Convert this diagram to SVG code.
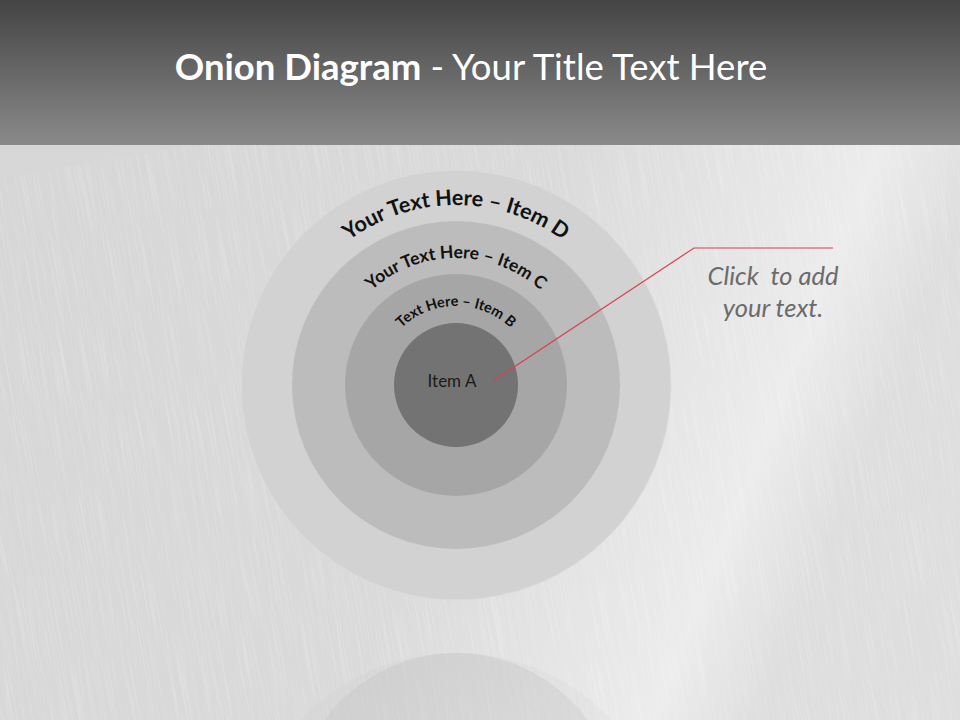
<svg xmlns="http://www.w3.org/2000/svg" width="960" height="720" viewBox="0 0 960 720">
<style>
.arc{font-family:Lato,"Open Sans","DejaVu Sans",sans-serif;font-weight:bold;fill:#111}
.lbl{font-family:Lato,"Open Sans","DejaVu Sans",sans-serif;fill:#1a1a1a}
.note{font-family:Lato,"Open Sans","DejaVu Sans",sans-serif;font-style:italic;fill:#6b6b6b;font-size:25.5px}
</style>
<defs>
<linearGradient id="hdr" x1="0" y1="0" x2="0" y2="1">
<stop offset="0" stop-color="#444444"/>
<stop offset="1" stop-color="#8a8a8a"/>
</linearGradient>
<linearGradient id="bg" x1="0" y1="0" x2="1" y2="0.3">
<stop offset="0" stop-color="#d6d6d6"/>
<stop offset="0.6" stop-color="#dadada"/>
<stop offset="0.9" stop-color="#ececec"/>
<stop offset="1" stop-color="#dedede"/>
</linearGradient>
<filter id="brush" x="0" y="0" width="1" height="1">
<feTurbulence type="fractalNoise" baseFrequency="0.6 0.012" numOctaves="2" seed="3"/>
<feColorMatrix type="matrix" values="0 0 0 0 1  0 0 0 0 1  0 0 0 0 1  1.2 0 0 0 -0.55"/>
</filter>
<linearGradient id="refl" x1="0" y1="0" x2="0" y2="1">
<stop offset="0" stop-color="#bcbcbc" stop-opacity="0.3"/>
<stop offset="1" stop-color="#bcbcbc" stop-opacity="0.1"/>
</linearGradient>
<path id="pD" d="M276,385 A180,180 0 0 1 636,385"/>
<path id="pC" d="M329,385 A127,127 0 0 1 583,385"/>
<path id="pB" d="M377,385 A79,79 0 0 1 535,385"/>
</defs>
<rect x="0" y="0" width="960" height="720" fill="url(#bg)"/>
<g transform="rotate(-10 480 430)">
<rect x="-200" y="100" width="1400" height="800" filter="url(#brush)" opacity="0.45"/>
</g>
<rect x="0" y="0" width="960" height="145" fill="url(#hdr)"/>
<text x="471" y="80" text-anchor="middle" font-family="Lato,'Open Sans',sans-serif" font-size="36.5" fill="#ffffff"><tspan font-weight="bold">Onion Diagram</tspan> - Your Title Text Here</text>
<g id="reflection">
<circle cx="456" cy="868" r="215" fill="url(#refl)" opacity="0.4"/>
<circle cx="456" cy="816" r="163" fill="url(#refl)"/>
</g>
<g id="itemD">
<circle cx="456" cy="385" r="215" fill="#d2d2d2" stroke="#dcdcdc" stroke-width="1"/>
<text class="arc" font-size="21.5"><textPath href="#pD" startOffset="50%" text-anchor="middle">Your Text Here – Item D</textPath></text>
</g>
<g id="itemC">
<circle cx="456" cy="385" r="164" fill="#bcbcbc"/>
<text class="arc" font-size="17.5"><textPath href="#pC" startOffset="50%" text-anchor="middle">Your Text Here – Item C</textPath></text>
</g>
<g id="itemB">
<circle cx="456" cy="385" r="111" fill="#a6a6a6"/>
<text class="arc" font-size="14.5"><textPath href="#pB" startOffset="50%" text-anchor="middle">Text Here – Item B</textPath></text>
</g>
<g id="itemA">
<circle cx="456" cy="385" r="62" fill="#737373"/>
<text class="lbl" x="452" y="387" text-anchor="middle" font-size="17">Item A</text>
</g>
<g id="connectors">
<polyline points="493,381 694,248 833,248" fill="none" stroke="#d9414f" stroke-width="1.2"/>
</g>
<g id="callout">
<text class="note" x="773" y="285" text-anchor="middle" xml:space="preserve">Click  to add</text>
<text class="note" x="773" y="317" text-anchor="middle">your text.</text>
</g>
</svg>
